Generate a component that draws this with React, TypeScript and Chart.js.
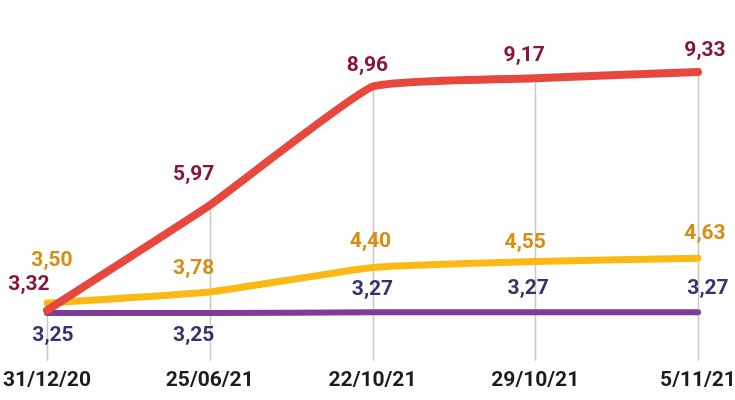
import React, { useEffect, useRef } from "react";
import { Chart, registerables } from "chart.js";

Chart.register(...registerables);

const categories = ["31/12/20", "25/06/21", "22/10/21", "29/10/21", "5/11/21"];
const redValues = [3.32, 5.97, 8.96, 9.17, 9.33];
const yellowValues = [3.5, 3.78, 4.4, 4.55, 4.63];
const purpleValues = [3.25, 3.25, 3.27, 3.27, 3.27];

const fmt = (v: number) => v.toFixed(2).replace(".", ",");

// label offsets (dx, dy) per dataset index, per point
const labelOffsets: Record<number, [number, number][]> = {
  0: [[-18, -25], [-16, -30], [-5, -21], [-11, -23], [7, -21]],
  1: [[5, -42], [-16, -23], [-2, -26], [-10, -19], [7, -25]],
  2: [[6, 23], [-16, 23], [0, -22], [-7, -23], [10, -23]],
};
const labelColors = ["#8c1237", "#d88d12", "#3e2d6f"];

const gridPlugin = {
  id: "customGrid",
  beforeDatasetsDraw(chart: any) {
    const { ctx, chartArea } = chart;
    const meta0 = chart.getDatasetMeta(0);
    ctx.save();
    ctx.strokeStyle = "#c6c6c6";
    ctx.lineWidth = 1.5;
    meta0.data.forEach((pt: any, i: number) => {
      let top = pt.y;
      chart.data.datasets.forEach((_: any, di: number) => {
        const p = chart.getDatasetMeta(di).data[i];
        if (p && p.y < top) top = p.y;
      });
      ctx.beginPath();
      ctx.moveTo(Math.round(pt.x) + 0.5, top);
      ctx.lineTo(Math.round(pt.x) + 0.5, chartArea.bottom);
      ctx.stroke();
    });
    ctx.restore();
  },
};

const labelPlugin = {
  id: "customLabels",
  afterDatasetsDraw(chart: any) {
    const { ctx } = chart;
    ctx.save();
    ctx.font = "bold 21px Roboto";
    ctx.textAlign = "center";
    ctx.textBaseline = "middle";
    chart.data.datasets.forEach((ds: any, di: number) => {
      const meta = chart.getDatasetMeta(di);
      meta.data.forEach((pt: any, i: number) => {
        const [dx, dy] = labelOffsets[di][i];
        ctx.fillStyle = labelColors[di];
        ctx.fillText(fmt(ds.data[i]), pt.x + dx, pt.y + dy);
      });
    });
    ctx.restore();
  },
};

export default function App() {
  const ref = useRef<HTMLCanvasElement>(null);
  useEffect(() => {
    if (!ref.current) return;
    const chart = new Chart(ref.current, {
      type: "line",
      data: {
        labels: categories,
        datasets: [
          {
            data: redValues,
            borderColor: "#e8473e",
            borderWidth: 8,
            order: 0,
          },
          {
            data: yellowValues,
            borderColor: "#fdb913",
            borderWidth: 7,
            order: 1,
          },
          {
            data: purpleValues,
            borderColor: "#7d3c98",
            borderWidth: 6,
            order: 2,
          },
        ].map((d) => ({
          ...d,
          pointRadius: 0,
          pointHoverRadius: 0,
          tension: 0.12,
          fill: false,
          borderCapStyle: "round" as const,
          borderJoinStyle: "round" as const,
        })),
      },
      options: {
        animation: false,
        responsive: true,
        maintainAspectRatio: false,
        layout: { padding: { left: 47, right: 37, top: 0, bottom: 0 } },
        plugins: { legend: { display: false }, tooltip: { enabled: false } },
        scales: {
          x: {
            grid: { display: false, drawTicks: false },
            border: { display: false },
            afterFit: (scale: any) => {
              scale.paddingLeft = 0;
              scale.paddingRight = 0;
            },
            ticks: {
              padding: 7,
              color: "#1c1c1c",
              font: { family: "Roboto", size: 21, weight: "bold" },
              maxRotation: 0,
              autoSkip: false,
            },
          },
          y: {
            display: false,
            min: 2.045,
            max: 11.145,
          },
        },
      },
      plugins: [gridPlugin, labelPlugin],
    });
    return () => chart.destroy();
  }, []);
  return (
    <div style={{ position: "absolute", left: 0, top: 0, width: 735, height: 400, background: "#fff" }}>
      <canvas ref={ref} />
    </div>
  );
}
